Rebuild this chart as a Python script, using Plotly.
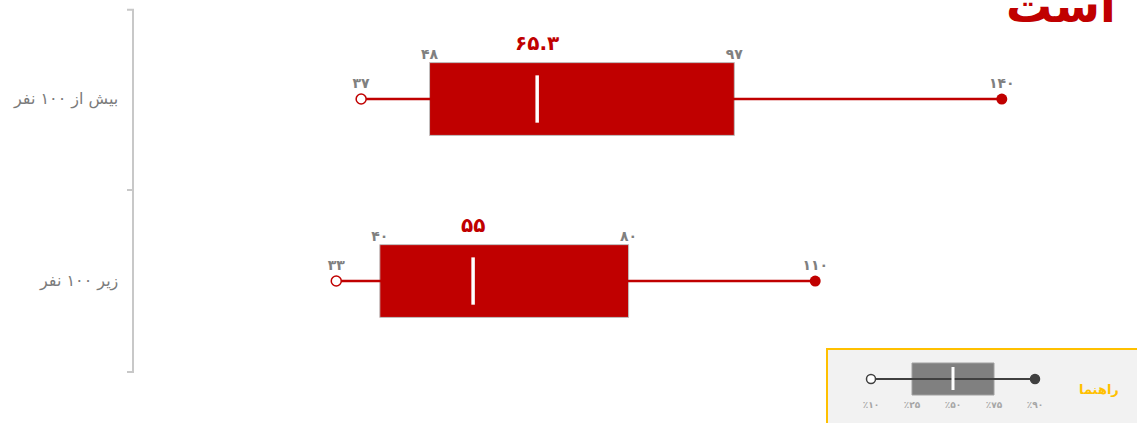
import plotly.graph_objects as go

# داده‌ها: صدک‌های هر گروه
groups = ["بیش از ۱۰۰ نفر", "زیر ۱۰۰ نفر"]
p10 = [37, 33]
p25 = [48, 40]
p50 = [65.3, 55]
p75 = [97, 80]
p90 = [140, 110]

legend_labels = ["٪۱۰", "٪۲۵", "٪۵۰", "٪۷۵", "٪۹۰"]
legend_title = "راهنما"
title_tail = "است"

RED = "#c00000"
GRAY = "#808080"
GOLD = "#ffc000"
FONT = "DejaVu Sans"
W, H = 1137, 423

FA = str.maketrans("0123456789", "۰۱۲۳۴۵۶۷۸۹")


def fa(v):
    return str(v).translate(FA)


def px(x):
    return x / W


ys = [1, 0]
half = 0.2

fig = go.Figure()

# سبیل‌ها
wx, wy = [], []
for lo, hi, y in zip(p10, p90, ys):
    wx += [lo, hi, None]
    wy += [y, y, None]
fig.add_trace(go.Scatter(x=wx, y=wy, mode="lines", line=dict(color=RED, width=2.5)))

# جعبه‌ها
fig.add_trace(go.Bar(
    y=ys, x=[b - a for a, b in zip(p25, p75)], base=p25, orientation="h",
    width=2 * half, marker=dict(color=RED, line=dict(color="#bfbfbf", width=1)),
))

# میانه
mx, my = [], []
for m, y in zip(p50, ys):
    mx += [m, m, None]
    my += [y - 0.13, y + 0.13, None]
fig.add_trace(go.Scatter(x=mx, y=my, mode="lines", line=dict(color="white", width=3.5)))

# کمینه و بیشینه
fig.add_trace(go.Scatter(
    x=p10, y=ys, mode="markers+text", text=[fa(v) for v in p10], textposition="top center",
    textfont=dict(family=FONT, size=14, color=GRAY, weight="bold"),
    marker=dict(size=10, color="white", line=dict(color=RED, width=1.5)),
))
fig.add_trace(go.Scatter(
    x=p90, y=ys, mode="markers+text", text=[fa(v) for v in p90], textposition="top center",
    textfont=dict(family=FONT, size=14, color=GRAY, weight="bold"),
    marker=dict(size=11, color=RED),
))

# برچسب چارک‌ها
fig.add_trace(go.Scatter(
    x=p25 + p75, y=[y + half for y in ys] * 2, mode="text",
    text=[fa(v) for v in p25 + p75], textposition="top center",
    textfont=dict(family=FONT, size=14, color=GRAY, weight="bold"),
))

for m, y in zip(p50, ys):
    fig.add_annotation(x=m, y=y + half, yanchor="bottom", yshift=6, text=fa(m),
                       showarrow=False, font=dict(family=FONT, size=20, color=RED, weight="bold"))

for g, y in zip(groups, ys):
    fig.add_annotation(xref="paper", x=px(120), y=y, xanchor="right", text=g, showarrow=False,
                       font=dict(family=FONT, size=16, color="#7a7a7a"))

# براکت سمت چپ
bx, tk = px(133), px(127)
fig.add_shape(type="path", xref="paper", yref="y",
              path=f"M {tk},1.49 L {bx},1.49 L {bx},-0.5 L {tk},-0.5",
              line=dict(color="#c8c8c8", width=2))
fig.add_shape(type="line", xref="paper", yref="y", x0=tk, x1=bx, y0=0.5, y1=0.5,
              line=dict(color="#c8c8c8", width=2))

fig.add_annotation(xref="paper", yref="paper", x=px(1118), y=1 - 35 / H, xanchor="right",
                   yanchor="bottom", text=title_tail, showarrow=False,
                   font=dict(family=FONT, size=46, color=RED, weight="bold"))

# راهنما
idx = list(range(len(legend_labels)))
fig.add_shape(type="rect", xref="paper", yref="paper", x0=px(827), x1=1.01, y0=-0.05,
              y1=74 / H, fillcolor="#f2f2f2", line=dict(color=GOLD, width=2), layer="below")
fig.add_trace(go.Scatter(x=[idx[0], idx[-1]], y=[44, 44], mode="lines",
                         line=dict(color="#404040", width=2), xaxis="x2", yaxis="y2"))
fig.add_trace(go.Bar(y=[44], x=[idx[3] - idx[1]], base=[idx[1]], orientation="h", width=32,
                     marker=dict(color=GRAY, line=dict(color="#a0a0a0", width=1)),
                     xaxis="x2", yaxis="y2"))
fig.add_trace(go.Scatter(x=[idx[2], idx[2]], y=[33, 56], mode="lines",
                         line=dict(color="white", width=3), xaxis="x2", yaxis="y2"))
fig.add_trace(go.Scatter(x=[idx[0], idx[-1]], y=[44, 44], mode="markers",
                         marker=dict(size=9, color=["white", "#404040"],
                                     line=dict(color="#404040", width=1.5)),
                         xaxis="x2", yaxis="y2"))
fig.add_trace(go.Scatter(x=idx, y=[17] * len(idx), mode="text", text=legend_labels,
                         textfont=dict(family=FONT, size=9, color="#a6a6a6", weight="bold"),
                         xaxis="x2", yaxis="y2"))
fig.add_annotation(xref="x2", yref="y2", x=5.55, y=34, text=legend_title, showarrow=False,
                   font=dict(family=FONT, size=13, color=GOLD, weight="bold"))

fig.update_layout(
    width=W, height=H, margin=dict(l=0, r=0, t=0, b=0),
    plot_bgcolor="rgba(0,0,0,0)", paper_bgcolor="white", showlegend=False, barmode="overlay",
    hovermode=False,
    xaxis=dict(domain=[0, 1], range=[-131 / 6.22, (W - 131) / 6.22], visible=False),
    yaxis=dict(domain=[0, 1], range=[-0.78, 1.544], visible=False),
    xaxis2=dict(domain=[px(826), 1], range=[-45 / 41, (W - 871) / 41], anchor="y2", visible=False),
    yaxis2=dict(domain=[0, 75 / H], range=[0, 75], anchor="x2", visible=False),
)

fig.write_html("out.html", config={"displayModeBar": False},
               post_script="document.body.style.margin='0';")
